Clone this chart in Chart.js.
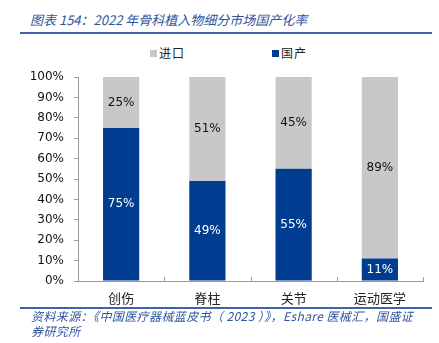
<!DOCTYPE html>
<html>
<head>
<meta charset="utf-8">
<script src="https://cdn.jsdelivr.net/npm/chart.js@4.4.1/dist/chart.umd.min.js"></script>
<style>
  body { margin: 0; background: #fff; }
  #wrap { position: relative; width: 439px; height: 343px; overflow: hidden; }
  #c { position: absolute; left: 0; top: 0; }
  .title { position: absolute; left: 30px; top: 10px; font: italic 13px "Noto Sans CJK SC", sans-serif; color: #30549f; white-space: nowrap; }
  .rule { position: absolute; left: 20px; width: 412px; height: 2px; background: #3f62a8; }
  .leg { position: absolute; top: 44px; font: 12px "Noto Sans CJK SC", sans-serif; color: #222; white-space: nowrap; letter-spacing: 1px; }
  .leg i { display: inline-block; width: 7px; height: 7px; margin-right: 2px; vertical-align: 1px; }
  .src { position: absolute; left: 31px; top: 308px; font: italic 12px/15px "Noto Sans CJK SC", sans-serif; color: #30549f; white-space: nowrap; letter-spacing: 0.4px; }
</style>
</head>
<body>
<div id="wrap">
  <div class="title">图表 154：2022 年骨科植入物细分市场国产化率</div>
  <div class="rule" style="top:32px"></div>
  <div class="leg" style="left:150px"><i style="background:#c8c8c8"></i>进口</div>
  <div class="leg" style="left:272px"><i style="background:#003c8f"></i>国产</div>
  <canvas id="c" width="439" height="343"></canvas>
  <div class="rule" style="top:307px"></div>
  <div class="src">资料来源：《中国医疗器械蓝皮书（ 2023 ）》，Eshare 医械汇，国盛证<br>券研究所</div>
</div>
<script>
const categories = ["创伤", "脊柱", "关节", "运动医学"];
const domestic = [75, 49, 55, 11];
const imported = [25, 51, 45, 89];

// labels in the middle of each segment
const segLabels = {
  id: "segLabels",
  afterDatasetsDraw(chart) {
    const ctx = chart.ctx;
    ctx.save();
    ctx.font = '12px "DejaVu Sans"';
    ctx.textAlign = "center";
    ctx.textBaseline = "middle";
    chart.data.datasets.forEach((ds, i) => {
      chart.getDatasetMeta(i).data.forEach((el, j) => {
        ctx.fillStyle = ds.labelColor;
        ctx.fillText(ds.data[j] + "%", el.x, (el.y + el.base) / 2);
      });
    });
    ctx.restore();
  }
};

// small inside ticks on the category axis
const xTicks = {
  id: "xTicks",
  afterDraw(chart) {
    const x = chart.scales.x, ctx = chart.ctx;
    const step = x.getPixelForValue(1) - x.getPixelForValue(0);
    ctx.save();
    ctx.strokeStyle = "#9a9a9a";
    ctx.lineWidth = 1;
    for (let i = 0; i < categories.length; i++) {
      const px = Math.round(x.getPixelForValue(i) + step / 2) + 0.5;
      ctx.beginPath();
      ctx.moveTo(px, x.top);
      ctx.lineTo(px, x.top - 4);
      ctx.stroke();
    }
    ctx.restore();
  }
};

new Chart(document.getElementById("c"), {
  type: "bar",
  data: {
    labels: categories,
    datasets: [
      { label: "国产", data: domestic, backgroundColor: "#003c8f", labelColor: "#ffffff",
        categoryPercentage: 1, barPercentage: 0.42 },
      { label: "进口", data: imported, backgroundColor: "#c8c8c8", labelColor: "#111111",
        categoryPercentage: 1, barPercentage: 0.42 }
    ]
  },
  options: {
    responsive: false,
    animation: false,
    layout: { padding: { top: 77, left: 0, right: 16, bottom: 32 } },
    plugins: { legend: { display: false }, tooltip: { enabled: false } },
    scales: {
      x: {
        stacked: true,
        afterFit: (s) => { s.height = 30; },
        grid: { display: false, drawTicks: false },
        border: { color: "#9a9a9a" },
        ticks: { padding: 9, color: "#222", font: { family: "Noto Sans CJK SC", size: 13 } }
      },
      y: {
        stacked: true,
        min: 0,
        max: 100,
        afterFit: (s) => { s.width = 78; },
        grid: { drawOnChartArea: false, tickLength: 4, color: "#9a9a9a" },
        border: { color: "#9a9a9a" },
        ticks: { stepSize: 10, padding: 10, color: "#111", font: { family: "DejaVu Sans", size: 12 },
          callback: (v) => v + "%" }
      }
    }
  },
  plugins: [segLabels, xTicks]
});
</script>
</body>
</html>
